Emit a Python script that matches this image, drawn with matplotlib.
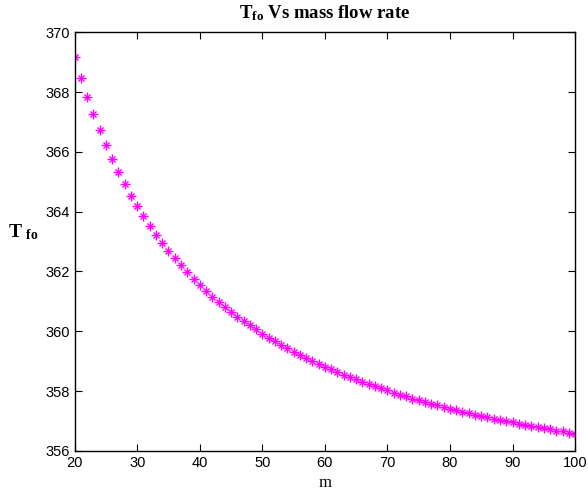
import numpy as np
import matplotlib
matplotlib.use('Agg')
import matplotlib.pyplot as plt

# mass flow rate m and outlet fluid temperature T_fo
m = list(range(20, 101))
t_fo = [369.17, 368.47, 367.85, 367.27, 366.73, 366.22, 365.76, 365.32, 364.91, 364.53,
        364.18, 363.84, 363.52, 363.22, 362.95, 362.69, 362.44, 362.20, 361.97, 361.75,
        361.54, 361.35, 361.16, 360.98, 360.81, 360.65, 360.49, 360.34, 360.20, 360.06,
        359.92, 359.79, 359.67, 359.55, 359.43, 359.32, 359.21, 359.11, 359.01, 358.91,
        358.82, 358.73, 358.64, 358.55, 358.47, 358.39, 358.31, 358.23, 358.16, 358.09,
        358.02, 357.95, 357.88, 357.82, 357.75, 357.69, 357.63, 357.57, 357.52, 357.46,
        357.41, 357.36, 357.31, 357.26, 357.21, 357.16, 357.12, 357.07, 357.03, 356.99,
        356.95, 356.91, 356.87, 356.83, 356.79, 356.75, 356.72, 356.68, 356.65, 356.61,
        356.57]
xticks = list(range(20, 101, 10))
yticks = list(range(356, 371, 2))

plt.rcParams['mathtext.fontset'] = 'custom'
plt.rcParams['mathtext.rm'] = 'Liberation Serif'
plt.rcParams['mathtext.bf'] = 'Liberation Serif:bold'

fig = plt.figure(figsize=(5.88, 4.96), dpi=100)
ax = fig.add_axes([0.127, 0.091, 0.851, 0.844])

# MATLAB-style asterisk: plus with a cross on top
ax.plot(m, t_fo, linestyle='none', marker='+', markersize=6.5, color='#ff00ff', markeredgewidth=1.0)
ax.plot(m, t_fo, linestyle='none', marker='x', markersize=4, color='#ff00ff', markeredgewidth=1.0)

ax.set_xlim(20, 100)
ax.set_ylim(356, 370)
ax.set_xticks(xticks)
ax.set_yticks(yticks)
ax.tick_params(direction='in', top=True, right=True, length=5, width=0.8, labelsize=10.5)
for lab in ax.get_xticklabels() + ax.get_yticklabels():
    lab.set_family('Liberation Sans')
for sp in ax.spines.values():
    sp.set_linewidth(1.0)

ax.set_title(r'$\mathbf{T_{fo}}$' + ' Vs mass flow rate', fontsize=13.5, fontweight='bold',
             family='Liberation Serif', pad=10)
ax.set_xlabel('m', fontsize=12, family='Liberation Serif', labelpad=4)
ax.set_ylabel(r'$\mathbf{T_{\ fo}}$', fontsize=14, rotation=0, labelpad=16)

fig.savefig('out.png', dpi=100)
